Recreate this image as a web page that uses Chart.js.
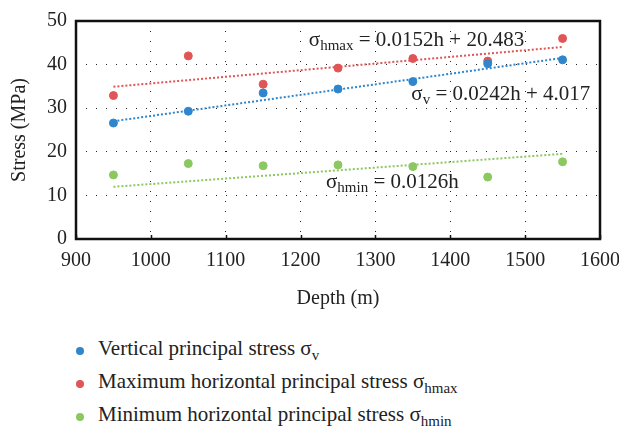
<!DOCTYPE html>
<html>
<head>
<meta charset="utf-8">
<script src="https://cdn.jsdelivr.net/npm/chart.js@4/dist/chart.umd.min.js"></script>
<style>
  body { margin: 0; background: #fff; }
  #wrap { position: relative; width: 619px; height: 431px; overflow: hidden; }
  #box { position: absolute; left: 0; top: 0; width: 630px; height: 320px; }
  #legend { position: absolute; left: 0; top: 332px; font-family: "Liberation Serif", serif; font-size: 21px; color: #222; white-space: nowrap; }
  #legend div { position: relative; height: 33px; line-height: 33px; padding-left: 98px; }
  #legend span.dot { position: absolute; left: 76px; top: 15px; width: 8px; height: 8px; border-radius: 50%; }
  #legend sub { font-size: 15px; vertical-align: -5px; line-height: 0; }
</style>
</head>
<body>
<div id="wrap">
  <div id="box"><canvas id="myChart"></canvas></div>
  <div id="legend"></div>
</div>
<script>
var depths = [950, 1050, 1150, 1250, 1350, 1450, 1550];
var sigmaV = [26.6, 29.3, 33.5, 34.4, 36.1, 40.2, 41.1];
var sigmaHmax = [32.9, 42.0, 35.5, 39.2, 41.4, 40.8, 46.0];
var sigmaHmin = [14.7, 17.3, 16.8, 17.0, 16.6, 14.2, 17.7];

// fitted lines: stress = slope * h + intercept
var fitSlopes = [0.0242, 0.0152, 0.0126];
var fitIntercepts = [4.017, 20.483, 0];
var fitText = ["0.0242h + 4.017", "0.0152h + 20.483", "0.0126h"];
var subNames = ["v", "hmax", "hmin"];
var seriesNames = ["Vertical principal stress", "Maximum horizontal principal stress", "Minimum horizontal principal stress"];
var colors = ["#2f86cc", "#e05555", "#8cc860"];

var xTicks = [900, 1000, 1100, 1200, 1300, 1400, 1500, 1600];
var yTicks = [0, 10, 20, 30, 40, 50];

var serif = "'Liberation Serif', serif";
var series = [sigmaV, sigmaHmax, sigmaHmin];

var datasets = [];
series.forEach(function(vals, i){
  datasets.push({
    type: "scatter",
    data: depths.map(function(d, k){ return {x: d, y: vals[k]}; }),
    backgroundColor: colors[i],
    borderColor: colors[i],
    pointRadius: 4,
    pointHoverRadius: 4
  });
});
series.forEach(function(vals, i){
  var h0 = depths[0], h1 = depths[depths.length - 1];
  datasets.push({
    type: "line",
    data: [{x: h0, y: fitSlopes[i] * h0 + fitIntercepts[i]}, {x: h1, y: fitSlopes[i] * h1 + fitIntercepts[i]}],
    borderColor: colors[i],
    borderWidth: 2,
    borderDash: [2, 2],
    pointRadius: 0,
    fill: false
  });
});

// where the equations sit, in axis units (left edge, middle of the line)
var eqAt = [{x: 1348, y: 33.2}, {x: 1211, y: 45.6}, {x: 1234, y: 13.0}];

function drawSigma(ctx, x, y, sub, rest) {
  ctx.font = "21px " + serif;
  ctx.fillText("\u03c3", x, y);
  x += ctx.measureText("\u03c3").width;
  ctx.font = "15px " + serif;
  ctx.fillText(sub, x, y + 6);
  x += ctx.measureText(sub).width;
  ctx.font = "21px " + serif;
  ctx.fillText(" = " + rest, x, y);
}

var framePlugin = {
  id: "frame",
  afterDatasetsDraw: function(chart){
    var ctx = chart.ctx, a = chart.chartArea;
    var xs = chart.scales.x, ys = chart.scales.y;
    ctx.save();
    ctx.strokeStyle = "#111";
    ctx.lineWidth = 1.5;
    // small inward tick marks along the bottom
    xTicks.forEach(function(t){
      var px = Math.round(xs.getPixelForValue(t)) + 0.5;
      ctx.beginPath(); ctx.moveTo(px, a.bottom); ctx.lineTo(px, a.bottom - 4); ctx.stroke();
    });
    ctx.lineWidth = 2.5;
    ctx.strokeRect(a.left, a.top, a.right - a.left, a.bottom - a.top);
    ctx.fillStyle = "#222";
    ctx.textBaseline = "middle";
    ctx.textAlign = "left";
    eqAt.forEach(function(p, i){
      drawSigma(ctx, xs.getPixelForValue(p.x), ys.getPixelForValue(p.y), subNames[i], fitText[i]);
    });
    ctx.restore();
  }
};

var tickFont = { family: serif, size: 20 };

var ctx = document.getElementById("myChart").getContext("2d");
var myChart = new Chart(ctx, {
  data: { datasets: datasets },
  options: {
    responsive: true,
    maintainAspectRatio: false,
    animation: false,
    layout: { padding: { top: 3, right: 0, bottom: 5, left: 4 } },
    plugins: { legend: { display: false }, tooltip: { enabled: false } },
    scales: {
      x: {
        type: "linear",
        min: 900, max: 1600,
        afterBuildTicks: function(s){ s.ticks = xTicks.map(function(v){ return {value: v}; }); },
        grid: { color: "#222", lineWidth: 1, drawTicks: false },
        border: { display: false, dash: [1, 9] },
        ticks: { color: "#222", padding: 10, font: tickFont, callback: function(v){ return String(v); } },
        title: { display: true, text: "Depth (m)", color: "#222", padding: { top: 4 }, font: tickFont }
      },
      y: {
        min: 0, max: 50,
        afterBuildTicks: function(s){ s.ticks = yTicks.map(function(v){ return {value: v}; }); },
        grid: { color: "#222", lineWidth: 1, drawTicks: false },
        border: { display: false, dash: [1, 9] },
        ticks: { color: "#222", padding: 9, font: tickFont },
        title: { display: true, text: "Stress (MPa)", color: "#222", padding: { bottom: 6 }, font: tickFont }
      }
    }
  },
  plugins: [framePlugin]
});

var legend = document.getElementById("legend");
seriesNames.forEach(function(name, i){
  var row = document.createElement("div");
  row.innerHTML = '<span class="dot" style="background:' + colors[i] + '"></span>' +
    name + ' \u03c3<sub>' + subNames[i] + '</sub>';
  legend.appendChild(row);
});
</script>
</body>
</html>
